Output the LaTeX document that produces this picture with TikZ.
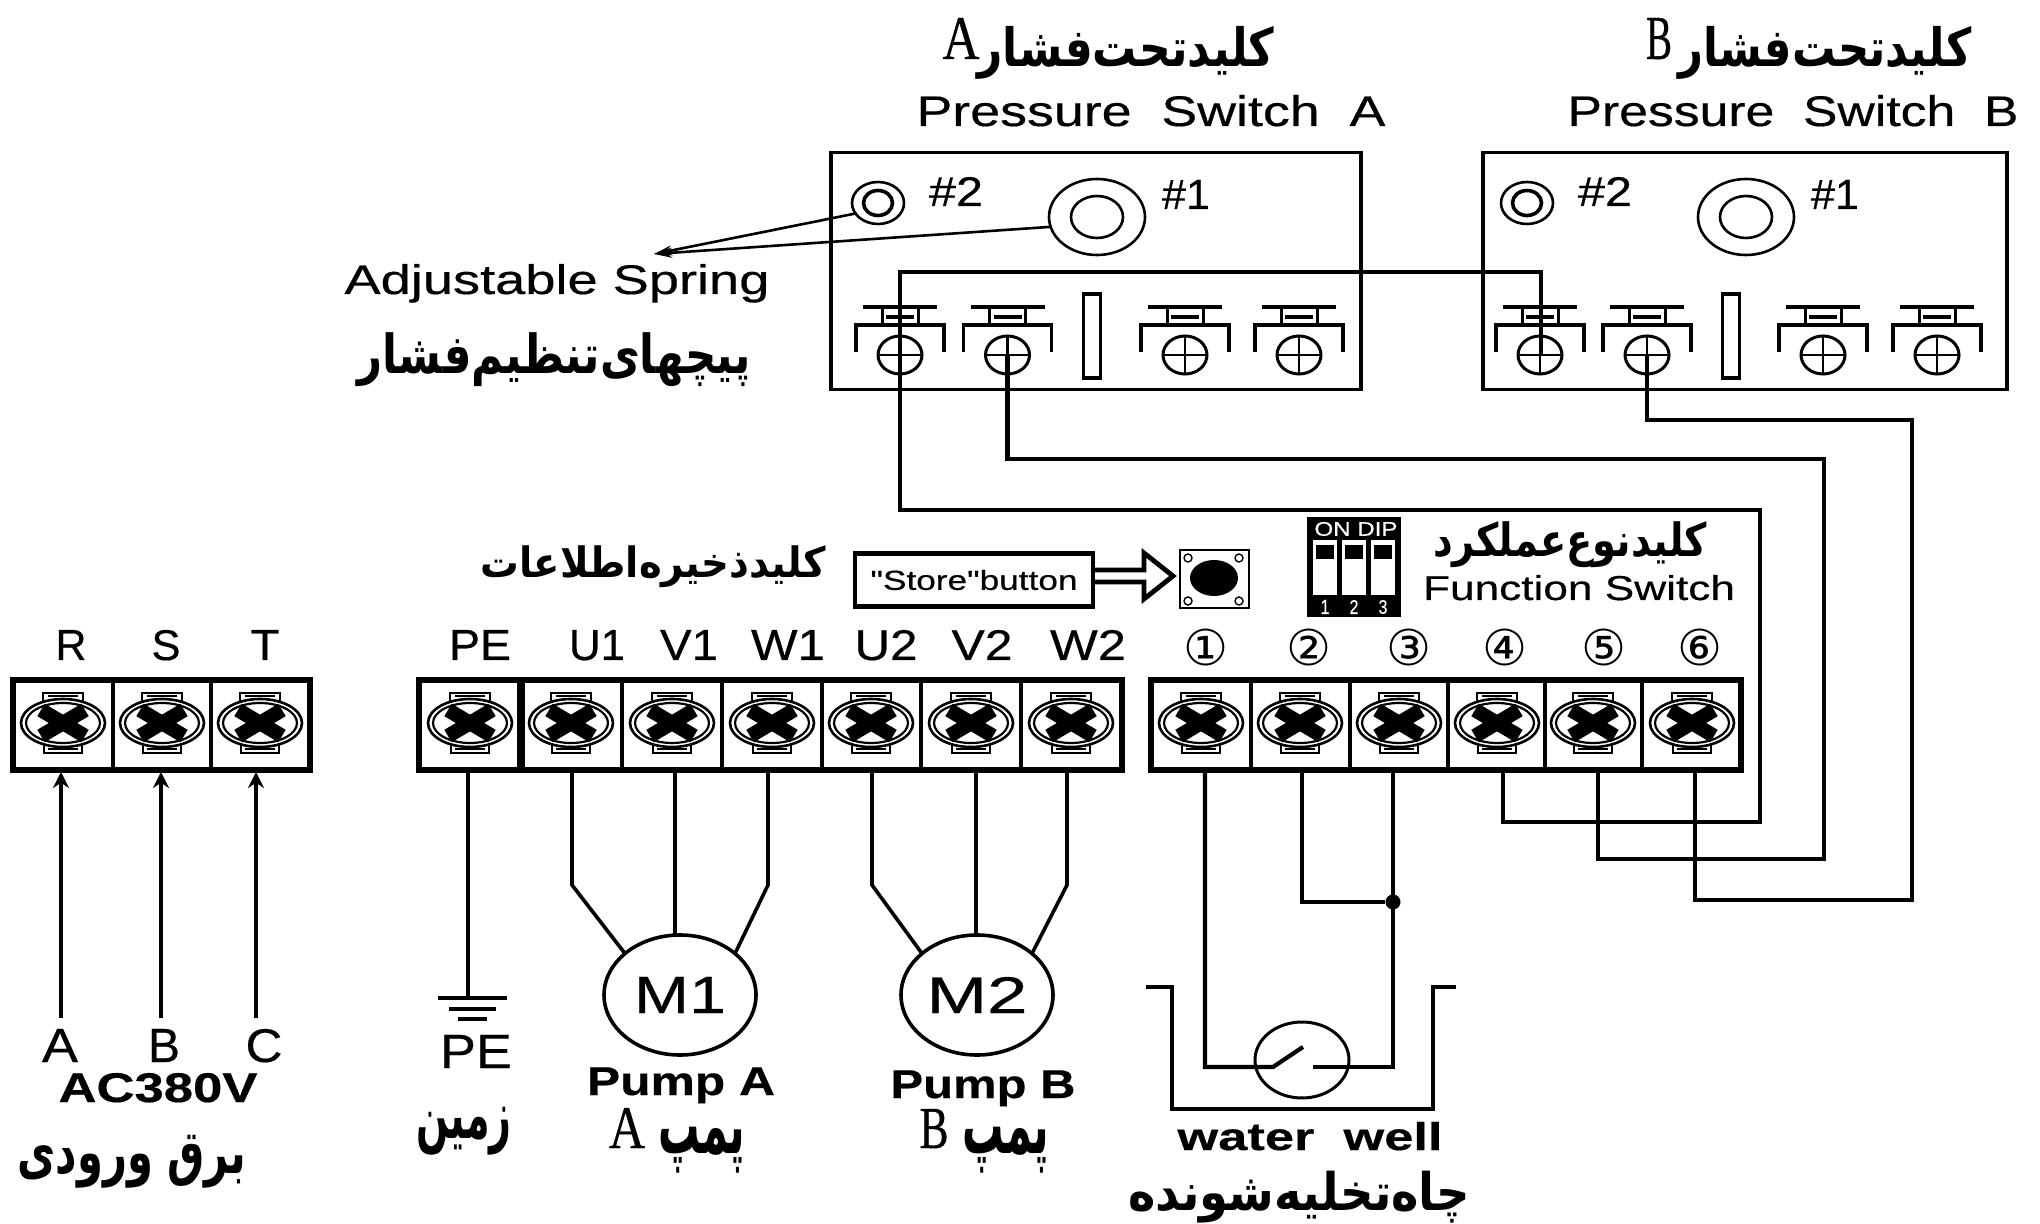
\documentclass[tikz,border=0pt]{standalone}
\usepackage{fontspec}
\usepackage{graphicx}
\usetikzlibrary{arrows.meta,shapes.geometric}
\setmainfont{Liberation Sans}[FakeBold=0.4]
\newfontfamily\arabicfont[Script=Arabic]{DejaVu Sans}
\newfontfamily\serifface{Liberation Serif}[FakeBold=0.6]
\newfontfamily\symface{DejaVu Sans}
\newfontfamily\plainface{Liberation Sans}[FakeBold=0.4]
\TeXXeTstate=1
\newlength\pxu
\setlength\pxu{0.5pt}
% width, height above baseline, text
\newcommand\fitxt[3]{\resizebox{#1\pxu}{#2\pxu}{#3}}
% width, total height, text
\newcommand\fitall[3]{\resizebox*{#1\pxu}{#2\pxu}{#3}}
\newcommand\fatext[1]{{\arabicfont\bfseries\beginR #1\endR}}
\tikzset{
  lab/.style={anchor=base,inner sep=0pt,outer sep=0pt},
  mid/.style={anchor=center,inner sep=0pt,outer sep=0pt},
  wire/.style={line width=2.1pt,line join=miter},
  thinbox/.style={line width=1.7pt},
  blockline/.style={line width=2.9pt},
  divline/.style={line width=2.3pt},
  leader/.style={line width=1.3pt,-{Stealth[length=9pt,width=5pt]}},
  feed/.style={line width=2.1pt,-{Stealth[length=8pt,width=8pt]}},
  ring/.style={draw,ellipse,line width=1.3pt,inner sep=0pt,outer sep=0pt},
  motor/.style={draw,ellipse,line width=1.8pt,inner sep=0pt,outer sep=0pt,minimum width=152\pxu,minimum height=120\pxu},
  junction/.style={circle,fill=black,inner sep=0pt,minimum size=7.5pt},
  termscrew/.pic={
    \draw[line width=1.3pt] (-20,-22) -- (-20,-30) -- (20,-30) -- (20,-22);
    \draw[line width=1.3pt] (-19,22) -- (-19,30) -- (19,30) -- (19,22);
    \draw[line width=1.4pt] (-15,-27) -- (15,-27) (-15,26) -- (15,26);
    \draw[line width=1.3pt,fill=white] (0,0) ellipse [x radius=42,y radius=24];
    \draw[line width=1.1pt] (0,0) ellipse [x radius=37,y radius=20];
    \draw[line width=7.2pt] (-22,-13) -- (22,13) (-22,13) -- (22,-13);
  },
  pswitch/.pic={
    \draw[line width=1.6pt] (-37,-48) -- (37,-48);
    \draw[line width=1.5pt] (-18,-48) -- (-18,-30) (18,-48) -- (18,-30);
    \draw[line width=2.2pt] (-14,-38) -- (14,-38);
    \draw[line width=1.6pt] (-44,-3) -- (-44,-30) -- (44,-30) -- (44,-3);
    \draw[line width=1.5pt] (0,0) ellipse [x radius=22,y radius=19];
    \draw[line width=1.3pt] (-22,0) -- (22,0) (0,-19) -- (0,19);
  },
}
\begin{document}
\begin{tikzpicture}[x=0.5pt,y=-0.5pt]
\useasboundingbox (0,0) rectangle (2040,1224);
\fill[white] (0,0) rectangle (2040,1224);

%% Pressure switch housings
\node[draw,thinbox,minimum width=530\pxu,minimum height=237\pxu,inner sep=0pt] (boxA) at (1096,271) {};
\node[draw,thinbox,minimum width=524\pxu,minimum height=237\pxu,inner sep=0pt] (boxB) at (1745,271) {};

%% Adjustment screws
\foreach \o/\s in {0/A,649/B}{
  \node[ring,minimum width=52\pxu,minimum height=42\pxu] (two\s) at (878+\o,203) {};
  \node[ring,line width=1.8pt,minimum width=29\pxu,minimum height=25\pxu] (twoin\s) at (878+\o,203) {};
  \node[ring,minimum width=96\pxu,minimum height=76\pxu] (one\s) at (1097+\o,217) {};
  \node[ring,minimum width=52\pxu,minimum height=42\pxu] (onein\s) at (1097+\o,217) {};
  \node[lab] (numtwo\s) at (956+\o,206) {\fitxt{54}{29}{\#2}};
  \node[lab] (numone\s) at (1186+\o,209) {\fitxt{48}{29}{\#1}};
}

%% Contacts in the pressure switches
\foreach \x in {900,1007.5,1185,1299,1540,1647,1823,1937}{
  \pic at (\x,355) {pswitch};
}
\node[draw,thinbox,minimum width=17\pxu,minimum height=84\pxu,inner sep=0pt] (slotA) at (1092,336) {};
\node[draw,thinbox,minimum width=17\pxu,minimum height=84\pxu,inner sep=0pt] (slotB) at (1731,336) {};

\coordinate (sA1) at (900,355);
\coordinate (sA2) at (1007.5,355);
\coordinate (sB1) at (1541,355);
\coordinate (sB2) at (1647,355);

%% Titles
\node[mid] (ttlAfa) at (1126,53) {\fitall{297}{53}{\fatext{کلید‌تحت‌فشار}}};
\node[lab] (ttlAle) at (961,59) {\fitxt{37}{41}{\serifface A}};
\node[lab] (ttlA) at (1151,126) {\fitxt{469}{31}{Pressure~~Switch~~A}};
\node[mid] (ttlBfa) at (1825,53) {\fitall{293}{53}{\fatext{کلید‌تحت‌فشار}}};
\node[lab] (ttlBle) at (1659,59) {\fitxt{26}{41}{\serifface B}};
\node[lab] (ttlB) at (1793,126) {\fitxt{451}{31}{Pressure~~Switch~~B}};

%% Spring labels
\coordinate (spr) at (654,254);
\draw[leader] (twoA.205) -- (spr);
\draw[leader] (oneA.192) -- (spr);
\node[lab] (adj) at (557,294) {\fitxt{425}{30}{Adjustable Spring}};
\node[mid] (adjfa) at (554,360) {\fitall{393}{54}{\fatext{پیچهای‌تنظیم‌فشار}}};

%% Store button
\node[mid] (storefa) at (653,567) {\fitall{345}{42}{\fatext{کلید‌ذخیره‌اطلاعات}}};
\node[draw,line width=2.4pt,minimum width=238\pxu,minimum height=53\pxu,inner sep=0pt] (store) at (974,580) {\fitxt{207}{20}{\plainface "Store"button}};
\coordinate (aa1) at (1093,570);\coordinate (aa2) at (1144,570);\coordinate (aa3) at (1144,553);
\coordinate (aa4) at (1173,576);\coordinate (aa5) at (1144,599);\coordinate (aa6) at (1144,582);\coordinate (aa7) at (1093,582);
\draw[line width=2.4pt,line join=miter] (aa1) -- (aa2) -- (aa3) -- (aa4) -- (aa5) -- (aa6) -- (aa7);
\node[draw,line width=1pt,minimum width=69\pxu,minimum height=58\pxu,inner sep=0pt] (btn) at (1214,579) {};
\node[ellipse,fill=black,minimum width=48\pxu,minimum height=36\pxu,inner sep=0pt] (btndot) at (1214,578) {};
\foreach \x/\y in {1188/558,1239/558,1188/601,1239/601}{
  \draw[line width=.7pt] (\x,\y) circle [radius=4];
}

%% DIP switch
\node[fill=black,minimum width=94\pxu,minimum height=100\pxu,inner sep=0pt] (dip) at (1354,567) {};
\node[mid,text=white] (dipon) at (1356,529) {\fitall{83}{14}{ON DIP}};
\foreach \x/\n in {1325/1,1354/2,1383/3}{
  \fill[white] (\x-12,540) rectangle (\x+12,595);
  \fill[black] (\x-9,545) rectangle (\x+9,559);
  \node[mid,text=white] (dipn\n) at (\x,607) {\fitall{9}{14}{\n}};
}
\node[mid] (funcfa) at (1570,545) {\fitall{274}{46}{\fatext{کلید‌نوع‌عملکرد}}};
\node[lab] (func) at (1579,600) {\fitxt{312}{25}{Function Switch}};

%% Terminal labels
\node[lab] (lR) at (71,660) {\fitxt{31}{30}{R}};
\node[lab] (lS) at (166,660) {\fitxt{29}{30}{S}};
\node[lab] (lT) at (265,660) {\fitxt{29}{30}{T}};
\node[lab] (lPE) at (480,660) {\fitxt{62}{30}{PE}};
\node[lab] (lU1) at (597,660) {\fitxt{56}{30}{U1}};
\node[lab] (lV1) at (689,660) {\fitxt{58}{30}{V1}};
\node[lab] (lW1) at (788,660) {\fitxt{74}{30}{W1}};
\node[lab] (lU2) at (886,660) {\fitxt{63}{30}{U2}};
\node[lab] (lV2) at (982,660) {\fitxt{61}{30}{V2}};
\node[lab] (lW2) at (1088,660) {\fitxt{76}{30}{W2}};
\foreach \x/\c/\n in {1206/①/a,1309/②/b,1409/③/c,1505/④/d,1604/⑤/e,1700/⑥/f}{
  \node[mid] (circ\n) at (\x,647) {\fitall{45}{37}{\symface \c}};
}

%% Terminal strips
\draw[blockline] (13,680) rectangle (310,770);
\draw[divline] (113,680) -- (113,770) (211,680) -- (211,770);
\draw[blockline] (419,680) rectangle (1122,770);
\draw[line width=4pt] (521,680) -- (521,770);
\foreach \x in {622,722,822,921,1021}{ \draw[divline] (\x,680) -- (\x,770); }
\draw[blockline] (1151,680) rectangle (1741,770);
\foreach \x in {1251,1350,1448,1545,1642}{ \draw[divline] (\x,680) -- (\x,770); }
\foreach \x in {63,162,260,470,571,672,772,871,971,1071,1201,1300,1399,1497,1593,1692}{
  \pic at (\x,723) {termscrew};
}

%% Terminal wire points
\coordinate (tR) at (61,772);\coordinate (tS) at (161,772);\coordinate (tT) at (256,772);
\coordinate (tPE) at (468,770);
\coordinate (tU1) at (572,770);\coordinate (tV1) at (675,770);\coordinate (tW1) at (768,770);
\coordinate (tU2) at (872,770);\coordinate (tV2) at (976,770);\coordinate (tW2) at (1067,770);
\coordinate (t1) at (1205,770);\coordinate (t2) at (1302,770);\coordinate (t3) at (1393,770);
\coordinate (t4) at (1503,770);\coordinate (t5) at (1598,770);\coordinate (t6) at (1695,770);

%% Mains feed
\coordinate (fA) at (61,1018);\coordinate (fB) at (161,1018);\coordinate (fC) at (256,1018);
\draw[feed] (fA) -- (tR);
\draw[feed] (fB) -- (tS);
\draw[feed] (fC) -- (tT);
\node[lab] (lA) at (60,1062) {\fitxt{36}{33}{A}};
\node[lab] (lB) at (164,1062) {\fitxt{32}{33}{B}};
\node[lab] (lC) at (264,1062) {\fitxt{37}{33}{C}};
\node[lab] (ac) at (158,1102) {\fitxt{199}{29}{\bfseries AC380V}};
\node[mid] (acfa) at (132,1162) {\fitall{229}{53}{\fatext{برق ورودی}}};

%% Earth
\coordinate (gnd) at (468,998);
\draw[wire] (tPE) -- (gnd);
\draw[line width=2.1pt] (438,998) -- (507,998);
\draw[line width=2.1pt] (449,1009) -- (496,1009);
\draw[line width=2.1pt] (458,1019) -- (487,1019);
\node[lab] (lPEb) at (476,1068) {\fitxt{72}{33}{PE}};
\node[mid] (gndfa) at (464,1131) {\fitall{95}{48}{\fatext{زمین}}};

%% Motors
\node[motor] (mA) at (680,995) {\fitxt{92}{36}{M1}};
\node[motor] (mB) at (977,995) {\fitxt{101}{36}{M2}};
\coordinate (eU1) at (572,885);\coordinate (eW1) at (768,885);
\coordinate (eU2) at (872,885);\coordinate (eW2) at (1067,885);
\draw[wire,line width=1.8pt] (tU1) -- (eU1) -- (mA.143);
\draw[wire,line width=1.8pt] (tV1) -- (tV1 |- mA.north);
\draw[wire,line width=1.8pt] (tW1) -- (eW1) -- (mA.37);
\draw[wire,line width=1.8pt] (tU2) -- (eU2) -- (mB.143);
\draw[wire,line width=1.8pt] (tV2) -- (tV2 |- mB.north);
\draw[wire,line width=1.8pt] (tW2) -- (eW2) -- (mB.37);
\node[lab] (pa) at (681,1095) {\fitall{188}{36}{\bfseries Pump A}};
\node[lab] (pb) at (983,1098) {\fitall{185}{36}{\bfseries Pump B}};
\node[lab] (paL) at (627,1148) {\fitxt{36}{40}{\serifface A}};
\node[mid] (pafa) at (702,1150) {\fitall{87}{46}{\fatext{پمپ}}};
\node[lab] (pbL) at (934,1148) {\fitxt{29}{39}{\serifface B}};
\node[mid] (pbfa) at (1006,1150) {\fitall{87}{46}{\fatext{پمپ}}};

%% Well
\coordinate (wa) at (1146,987);\coordinate (wb) at (1172,987);\coordinate (wc) at (1172,1109);
\coordinate (wd) at (1433,1109);\coordinate (we) at (1433,987);\coordinate (wf) at (1456,987);
\draw[wire] (wa) -- (wb) -- (wc) -- (wd) -- (we) -- (wf);
\node[draw,ellipse,line width=1.5pt,minimum width=94\pxu,minimum height=76\pxu,inner sep=0pt] (sw) at (1302,1060) {};
\coordinate (swL) at (1273,1067);\coordinate (swA) at (1303,1047);\coordinate (swR) at (1313,1067);
\node[junction] (jn) at (1393,902) {};
\draw[wire] (t1) |- (swL) -- (swA);
\draw[wire] (t3) |- (swR);
\draw[wire] (t2) |- (jn);
\node[lab] (wtr) at (1310,1150) {\fitxt{265}{28}{\bfseries water~~well}};
\node[mid] (wellfa) at (1299,1197) {\fitall{342}{52}{\fatext{چاه‌تخلیه‌شونده}}};

%% Wiring to the pressure switches
\coordinate (wtL) at (900,272);
\coordinate (w4a) at (1760,510);\coordinate (w4b) at (1503,822);
\coordinate (w5a) at (1824,459);\coordinate (w5b) at (1598,859);
\coordinate (w6a) at (1912,420);\coordinate (w6b) at (1695,900);
\draw[wire] (sB1) |- (wtL) -- (sA1) |- (w4a) |- (w4b) -- (t4);
\draw[wire] (sA2) |- (w5a) |- (w5b) -- (t5);
\draw[wire] (sB2) |- (w6a) |- (w6b) -- (t6);
\end{tikzpicture}
\end{document}
